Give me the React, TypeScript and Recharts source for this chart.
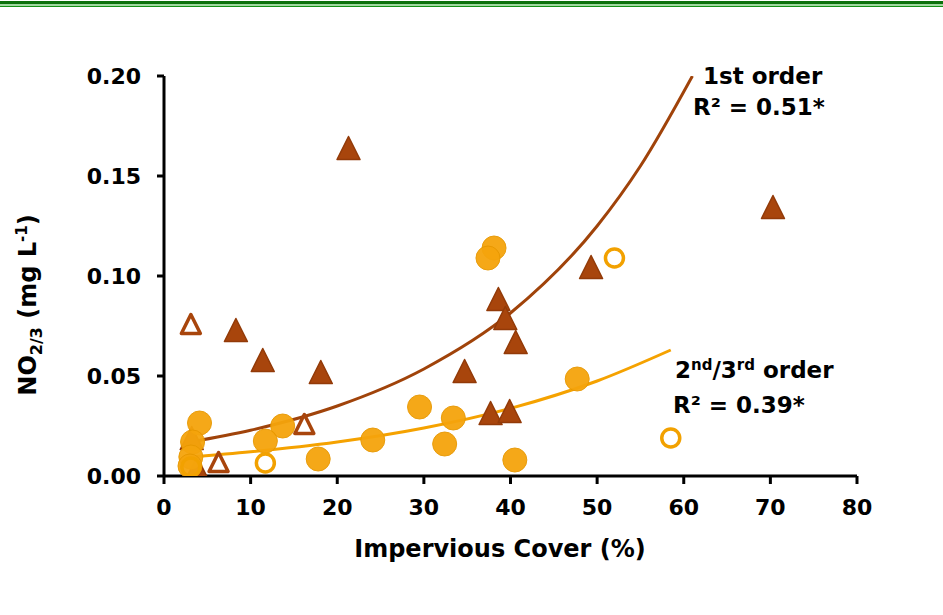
import React from "react";
import { ComposedChart, Scatter, Line, XAxis, YAxis, Customized } from "recharts";

// Impervious cover (%) vs NO2/3 (mg/L)
const firstOrderSites: [number, number][] = [
  [21.3, 0.164], [70.3, 0.1345], [49.3, 0.1045], [38.6, 0.0885], [39.4, 0.079],
  [40.6, 0.067], [34.7, 0.0525], [8.3, 0.073], [11.4, 0.058], [18.1, 0.052],
  [37.7, 0.0315], [39.9, 0.0325], [3.8, 0.004], [3.2, 0.019],
];
const firstOrderOpen: [number, number][] = [
  [3.1, 0.076], [6.3, 0.007], [16.2, 0.026],
];
const higherOrderSites: [number, number][] = [
  [38.1, 0.114], [37.4, 0.109], [29.5, 0.0345], [33.4, 0.029], [32.4, 0.016],
  [24.1, 0.018], [17.8, 0.0085], [40.5, 0.008], [47.7, 0.0485], [13.7, 0.025],
  [11.7, 0.0175], [4.1, 0.0265], [3.3, 0.017], [3.1, 0.0095], [3.0, 0.005],
];
const higherOrderOpen: [number, number][] = [
  [52.0, 0.109], [58.5, 0.019], [11.7, 0.0065], [3.1, 0.0045],
];
// trend curves, points
const firstOrderFit: [number, number][] = [
  [3, 0.017], [10, 0.0229], [20, 0.035], [30, 0.0535], [40, 0.0815],
  [50, 0.125], [55, 0.155], [61, 0.2],
];
const higherOrderFit: [number, number][] = [
  [3, 0.0095], [10, 0.0121], [20, 0.017], [30, 0.024], [40, 0.0338],
  [50, 0.0475], [58.5, 0.063],
];
const xTicks = [0, 10, 20, 30, 40, 50, 60, 70, 80];
const yTicks = [0, 0.05, 0.1, 0.15, 0.2];

const toPts = (arr: [number, number][]) => arr.map(([x, y]) => ({ x, y }));

const BROWN = "#a8450c";
const ORANGE = "#f5a40c";
const FONT = "'DejaVu Sans', sans-serif";

const FilledTriangle = (p: any) => {
  const { cx, cy } = p;
  const s = 11.5;
  return (
    <path
      d={`M${cx},${cy - s} L${cx + s},${cy + s} L${cx - s},${cy + s} Z`}
      fill={BROWN}
      stroke="#923a08"
      strokeWidth={1.5}
      strokeLinejoin="round"
    />
  );
};

const OpenTriangle = (p: any) => {
  const { cx, cy } = p;
  const s = 9.5;
  return (
    <path
      d={`M${cx},${cy - s} L${cx + s},${cy + s} L${cx - s},${cy + s} Z`}
      fill="none"
      stroke={BROWN}
      strokeWidth={3.5}
      strokeLinejoin="round"
    />
  );
};

const FilledCircle = (p: any) => (
  <circle cx={p.cx} cy={p.cy} r={12} fill={ORANGE} stroke="#e89800" strokeWidth={1} opacity={0.95} />
);

const OpenCircle = (p: any) => (
  <circle cx={p.cx} cy={p.cy} r={9} fill="none" stroke="#f2a100" strokeWidth={3.5} />
);

const Annotations = () => (
  <g fontFamily={FONT} fontWeight="bold" fill="#000">
    <text x={36} y={305} fontSize={24} textAnchor="middle" transform="rotate(-90 36 305)">
      NO<tspan fontSize={16} dy={6}>2/3</tspan>
      <tspan dy={-6}> (mg L</tspan>
      <tspan fontSize={15} dy={-9}>-1</tspan>
      <tspan dy={9}>)</tspan>
    </text>
    <text x={500} y={557} fontSize={24} textAnchor="middle">Impervious Cover (%)</text>
    <text x={703} y={84} fontSize={23}>1st order</text>
    <text x={693} y={115} fontSize={23}>R² = 0.51*</text>
    <text x={675} y={378} fontSize={23}>
      2<tspan fontSize={15} dy={-8}>nd</tspan>
      <tspan dy={8}>/3</tspan>
      <tspan fontSize={15} dy={-8}>rd</tspan>
      <tspan dy={8}> order</tspan>
    </text>
    <text x={673} y={413} fontSize={23}>R² = 0.39*</text>
  </g>
);

export default function App() {
  const tick = { fill: "#000", fontSize: 22, fontWeight: "bold", fontFamily: FONT };
  return (
    <div style={{ position: "absolute", left: 0, top: 0, width: 943, height: 615, background: "#fff" }}>
      <div style={{ position: "absolute", left: 0, top: 1, width: 943, height: 3, background: "#0a700a" }} />
      <div style={{ position: "absolute", left: 0, top: 4, width: 943, height: 1.5, background: "#9fd89f" }} />
      <div style={{ position: "absolute", left: 0, top: 5.5, width: 943, height: 1.5, background: "#149014" }} />
      <ComposedChart
        width={943}
        height={615}
        margin={{ top: 76, right: 86, bottom: 99, left: 84 }}
      >
        <XAxis
          type="number"
          dataKey="x"
          domain={[0, 80]}
          ticks={xTicks}
          interval={0}
          tick={tick}
          tickSize={8}
          tickMargin={15}
          height={40}
          axisLine={{ stroke: "#000", strokeWidth: 3 }}
          tickLine={{ stroke: "#000", strokeWidth: 3 }}
          allowDataOverflow
        />
        <YAxis
          type="number"
          dataKey="y"
          domain={[0, 0.2]}
          ticks={yTicks}
          interval={0}
          tick={tick}
          tickFormatter={(v: number) => v.toFixed(2)}
          tickSize={7}
          tickMargin={16}
          width={80}
          axisLine={{ stroke: "#000", strokeWidth: 3 }}
          tickLine={{ stroke: "#000", strokeWidth: 3 }}
          allowDataOverflow
        />
        <Scatter data={toPts(firstOrderSites)} shape={FilledTriangle} isAnimationActive={false} />
        <Scatter data={toPts(firstOrderOpen)} shape={OpenTriangle} isAnimationActive={false} />
        <Scatter data={toPts(higherOrderSites)} shape={FilledCircle} isAnimationActive={false} />
        <Scatter data={toPts(higherOrderOpen)} shape={OpenCircle} isAnimationActive={false} />
        <Line
          data={toPts(firstOrderFit)}
          dataKey="y"
          type="monotone"
          stroke="#a0430a"
          strokeWidth={3}
          dot={false}
          activeDot={false}
          isAnimationActive={false}
        />
        <Line
          data={toPts(higherOrderFit)}
          dataKey="y"
          type="monotone"
          stroke="#f5a200"
          strokeWidth={3}
          dot={false}
          activeDot={false}
          isAnimationActive={false}
        />
        <Customized component={Annotations} />
      </ComposedChart>
    </div>
  );
}
